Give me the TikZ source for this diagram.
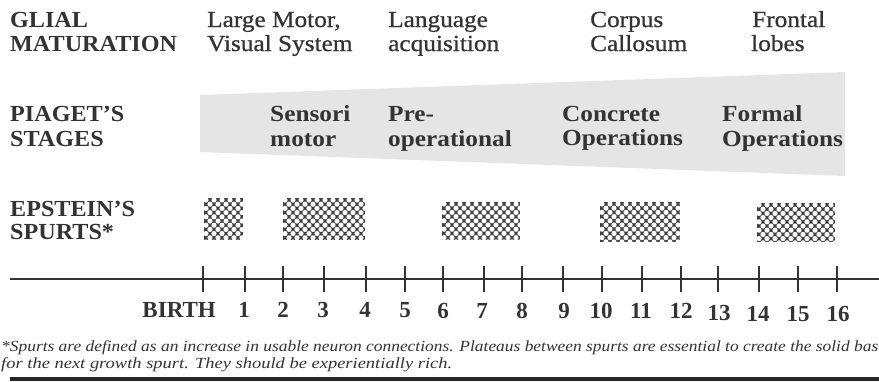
\documentclass[tikz,border=0pt]{standalone}
\usepackage{fontspec}
\setmainfont{Liberation Serif}
\newfontfamily\widefont[FakeStretch=1.1,Ligatures=TeX]{Liberation Serif}
\newfontfamily\regfont[FakeStretch=1.1,FakeBold=0.8,Ligatures=TeX]{Liberation Serif}
\newfontfamily\capsfont[FakeStretch=1.05,Ligatures=TeX]{Liberation Serif}
\usepackage{graphicx}
\definecolor{ink}{gray}{0.2}
\definecolor{band}{gray}{0.9}
\definecolor{dots}{gray}{0.25}
\begin{document}
\begin{tikzpicture}[x=1pt,y=-1pt,
  hd/.style={anchor=base west, inner sep=0pt, text=ink, font=\capsfont\fontsize{23}{25}\selectfont\bfseries},
  hdw/.style={anchor=base west, inner sep=0pt, text=ink, font=\widefont\fontsize{23}{25}\selectfont\bfseries},
  lb/.style={anchor=base west, inner sep=0pt, text=ink, font=\regfont\fontsize{23}{25}\selectfont},
  num/.style={anchor=base, inner sep=0pt, text=ink, font=\fontsize{23}{25}\selectfont\bfseries},
  note/.style={anchor=base west, inner sep=0pt, text=ink, font=\fontsize{15.5}{17}\selectfont\itshape},
  axisline/.style={draw=ink, line width=1.8pt},
  tickline/.style={draw=ink, line width=1.8pt},
  spurtbox/.style={inner sep=0pt, fill=dots, draw=none,
    path picture={
      \foreach \r in {0,...,11}{
        \foreach \c in {0,...,11}{
          \fill[white] ([shift={({(\c*8+mod(\r,2)*4+2)*1pt},{-(\r*4.2+2)*1pt})}]path picture bounding box.north west) circle (2.6pt);
        }
      }
    }}
]
\useasboundingbox (0,0) rectangle (879,381);
\clip (0,0) rectangle (879,381);

% Piaget band
\fill[band] (200,95) -- (845,72) -- (845,176) -- (200,152) -- cycle;

% row 1
\node[hd] (g1) at (10,27) {GLIAL};
\node[hd] (g2) at (10,51) {MATURATION};
\node[lb] (lm1) at (207,27) {Large Motor,};
\node[lb] (lm2) at (207,51) {Visual System};
\node[lb] (la1) at (388,27) {Language};
\node[lb] (la2) at (388,51) {acquisition};
\node[lb] (cc1) at (590,27) {Corpus};
\node[lb] (cc2) at (590,51) {Callosum};
\node[lb] (fl1) at (752,27) {Frontal};
\node[lb] (fl2) at (751,51) {lobes};

% row 2
\node[hd] (p1) at (10,121) {PIAGET’S};
\node[hd] (p2) at (10,146) {STAGES};
\node[hdw] (sm1) at (270,121) {Sensori};
\node[hdw] (sm2) at (270,146) {motor};
\node[hdw] (po1) at (388,121) {Pre-};
\node[hdw] (po2) at (388,146) {operational};
\node[hdw] (co1) at (562,121) {Concrete};
\node[hdw] (co2) at (562,145) {Operations};
\node[hdw] (fo1) at (722,121) {Formal};
\node[hdw] (fo2) at (722,146) {Operations};

% row 3
\node[hd] (e1) at (10,216) {EPSTEIN’S};
\node[hd] (e2) at (10,239) {SPURTS*};
\node[spurtbox, minimum width=39pt, minimum height=42pt] (s1) at (223.5,219) {};
\node[spurtbox, minimum width=82pt, minimum height=42pt] (s2) at (324,219) {};
\node[spurtbox, minimum width=78pt, minimum height=38pt] (s3) at (481,221) {};
\node[spurtbox, minimum width=80pt, minimum height=40pt] (s4) at (640,222) {};
\node[spurtbox, minimum width=78pt, minimum height=39pt] (s5) at (796,222.5) {};

% time axis
\coordinate (axL) at (10,279);
\coordinate (axR) at (879,279);
\draw[axisline] (axL) -- (axR);
\foreach \x in {203,245,283,324,366,405,443,484,522,563,602,642,681,718,759,798,837}{
  \coordinate (tt) at (\x,266);
  \coordinate (tb) at (\x,292);
  \draw[tickline] (tt) -- (tb);
}

\node[num, anchor=base east] (birth) at (216,317) {BIRTH};
\foreach \n/\x/\y in {1/244/317,2/283/317,3/323/317,4/365/317,5/405/317,6/443/318,7/482/318,8/522/318,9/564/318,10/601/318,11/641/318,12/681/318,13/719/320,14/758/321,15/798/321,16/838/321}{
  \node[num] (n\n) at (\x,\y) {\n};
}

% footnote
\node[note] (f1) at (1,351) {\resizebox{877pt}{\height}{*Spurts are defined as an increase in usable neuron connections. Plateaus between spurts are essential to create the solid bas}};
\node[note] (f2) at (1,368) {\resizebox{451pt}{\height}{for the next growth spurt. They should be experientially rich.}};

% bottom bar
\coordinate (bl) at (10,379);
\coordinate (br) at (879,379);
\draw[draw=black!85, line width=4pt] (bl) -- (br);
\end{tikzpicture}
\end{document}
